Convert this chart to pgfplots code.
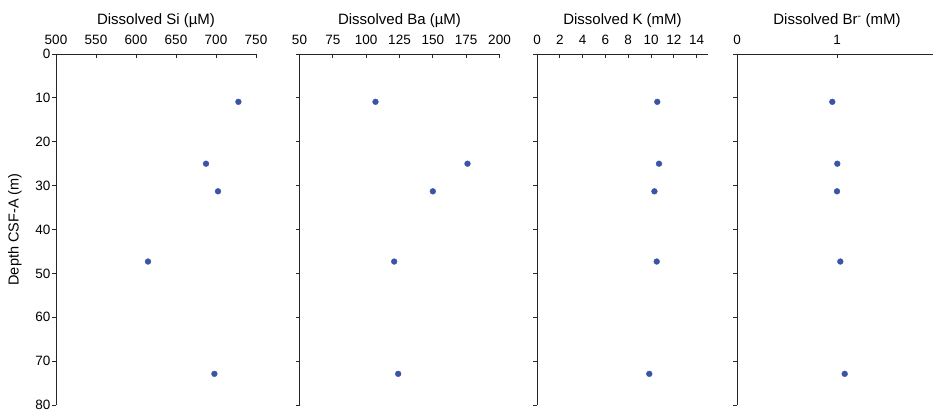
\documentclass[border=0pt]{standalone}
\usepackage{fontspec}
\setmainfont{Liberation Sans}
\usepackage{pgfplots}
\pgfplotsset{compat=1.18}

\definecolor{dotblue}{RGB}{58,84,166}

\pgfplotsset{
  porepanel/.style={
    scale only axis, height=351pt,
    y dir=reverse, ymin=0, ymax=80,
    ytick={0,10,...,80},
    axis x line*=top, axis y line*=left,
    axis line style={black!85, line width=0.8pt, -},
    tick style={black!85, line width=0.8pt},
    major tick length=4pt,
    tick align=outside,
    x tick style={yshift=-4pt},
    tick label style={font=\fontsize{13.5}{15}\selectfont},
    xticklabel style={yshift=2pt},
    yticklabel style={xshift=2pt},
    xlabel style={font=\fontsize{15}{17}\selectfont},
    /pgf/number format/assume math mode=true,
    /pgf/number format/1000 sep={},
    anchor=north west,
  },
  dots/.style={only marks, mark=*, mark size=2.9pt, draw=dotblue, fill=dotblue},
}

\begin{document}
\begin{tikzpicture}
\useasboundingbox (0pt,54pt) rectangle (933pt,-358pt);

\begin{axis}[porepanel, at={(56pt,0)}, width=200pt,
  xmin=500, xmax=750, xtick={500,550,...,750},
  xlabel={Dissolved Si (µM)},
  ylabel={Depth CSF-A (m)},
  ylabel style={font=\fontsize{14.5}{16}\selectfont, at={(rel axis cs:0,0.5)},
    anchor=center, yshift=41pt}]
\addplot[dots] coordinates {(728,10.9) (687.5,25.0) (702.5,31.3) (615,47.3) (698,72.9)};
\end{axis}

\begin{axis}[porepanel, at={(299.5pt,0)}, width=200pt,
  xmin=50, xmax=200, xtick={50,75,...,200},
  yticklabels={},
  xlabel={Dissolved Ba (µM)}]
\addplot[dots] coordinates {(107,10.9) (176,25.0) (150,31.3) (121,47.3) (124,72.9)};
\end{axis}

\begin{axis}[porepanel, at={(537pt,0)}, width=171pt,
  xmin=0, xmax=15, xtick={0,2,...,14},
  yticklabels={},
  xlabel={Dissolved K (mM)}]
\addplot[dots] coordinates {(10.55,10.9) (10.7,25.0) (10.3,31.3) (10.5,47.3) (9.85,72.9)};
\end{axis}

\begin{axis}[porepanel, at={(737pt,0)}, width=200pt,
  xmin=0, xmax=2, xtick={0,1},
  yticklabels={},
  xlabel={Dissolved Br\textsuperscript{-} (mM)}]
\addplot[dots] coordinates {(0.953,10.9) (1.003,25.0) (1.0,31.3) (1.033,47.3) (1.077,72.9)};
\end{axis}
\end{tikzpicture}
\end{document}
